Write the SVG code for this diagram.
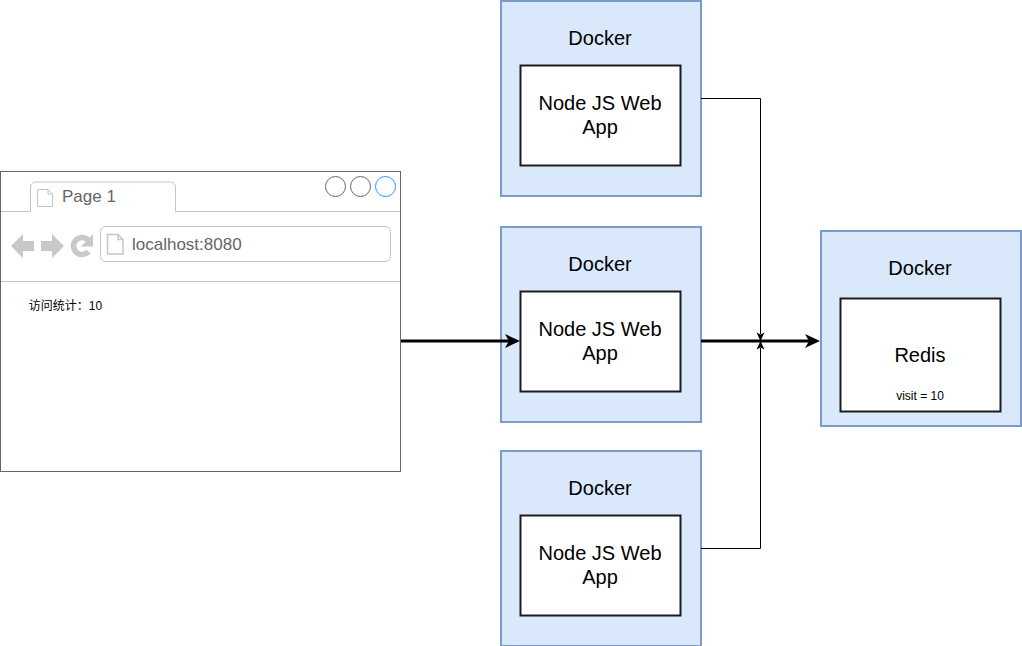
<svg xmlns="http://www.w3.org/2000/svg" width="1022" height="646" viewBox="0 0 1022 646">
<style>
text{font-family:"Liberation Sans",Arial,"Noto Sans CJK SC",sans-serif;fill:#000;text-anchor:middle}
.outer{fill:#dae8fc;stroke:#7c9bc9;stroke-width:2}
.inner{fill:#fff;stroke:#1c1c1c;stroke-width:2}
.t{font-size:20px}
.thin{fill:none;stroke:#000;stroke-width:1}
.thick{fill:none;stroke:#000;stroke-width:3}
.hd{fill:#000}
.g{fill:none;stroke:#c4c4c4;stroke-width:1}
.gf{fill:#c8c8c8}
.grey{fill:#666;text-anchor:start;font-size:17px}
</style>
<g id="browser">
<rect x="0.5" y="171.5" width="400" height="300" fill="#fff" stroke="#666"/>
<path class="g" d="M1 211.5H30.500V187a5 5 0 0 1 5-5H170.500a5 5 0 0 1 5 5V211.500H400"/>
<path class="g" d="M1 281.500H400"/>
<path class="g" d="M37.500 189.500H48l4.500 4.500V206.500H37.500ZM48 189.500V194H52.500"/>
<text class="grey" x="62" y="202">Page 1</text>
<circle cx="335.500" cy="186.500" r="10" fill="#fff" stroke="#666"/>
<circle cx="360.500" cy="186.500" r="10" fill="#fff" stroke="#666"/>
<circle cx="385.500" cy="186.500" r="10" fill="#fff" stroke="#2a96ff"/>
<path class="gf" d="M11 246L23 234V241H34V251H23V258Z"/>
<path class="gf" d="M64 246L52 234V241H41V251H52V258Z"/>
<path d="M88.500 240.500A8.500 8.500 0 1 0 88.500 251.500" fill="none" stroke="#c8c8c8" stroke-width="5.500"/>
<path class="gf" d="M93 234V246.500H81Z"/>
<rect class="g" x="100.500" y="226.500" width="290" height="35" rx="5"/>
<path d="M107.500 234.500H118l5 5V254H107.500ZM118 234.500V239.500H123" fill="none" stroke="#c8c8c8" stroke-width="1.500"/>
<text class="grey" x="132" y="250">localhost:8080</text>
<text x="65.500" y="310" font-size="12px">访问统计：10</text>
</g>
<g id="docker1">
<rect class="outer" x="501" y="1" width="200" height="195"/>
<text class="t" x="600" y="45">Docker</text>
<rect class="inner" x="520.500" y="65.500" width="160" height="100"/>
<text class="t" x="600" y="110">Node JS Web</text>
<text class="t" x="600" y="134">App</text>
</g>
<g id="docker2">
<rect class="outer" x="501" y="227" width="200" height="195"/>
<text class="t" x="600" y="271">Docker</text>
<rect class="inner" x="520.500" y="291.500" width="160" height="100"/>
<text class="t" x="600" y="336">Node JS Web</text>
<text class="t" x="600" y="360">App</text>
</g>
<g id="docker3">
<rect class="outer" x="501" y="451" width="200" height="195"/>
<text class="t" x="600" y="495">Docker</text>
<rect class="inner" x="520.500" y="515.500" width="160" height="100"/>
<text class="t" x="600" y="560">Node JS Web</text>
<text class="t" x="600" y="584">App</text>
</g>
<g id="docker4">
<rect class="outer" x="821" y="231" width="200" height="195"/>
<text class="t" x="920" y="275">Docker</text>
<rect class="inner" x="840.500" y="298.500" width="160" height="113"/>
<text class="t" x="920" y="362">Redis</text>
<text x="920" y="400" font-size="12px">visit = 10</text>
</g>
<g id="connectors">
<path class="thin" d="M701 98.500H760.500V334"/>
<path class="thin" d="M701 548.500H760.500V348"/>
<path class="hd" d="M756.500 332.500L760.500 334.500L764.500 332.500L760.500 341Z"/>
<path class="hd" d="M756.500 349.500L760.500 347.500L764.500 349.500L760.500 341Z"/>
<path class="thick" d="M401 341H510"/>
<path class="hd" d="M520 341L505 348L509 341L505 334Z"/>
<path class="thick" d="M701 341H810"/>
<path class="hd" d="M820 341L805 348L809 341L805 334Z"/>
</g>
</svg>
